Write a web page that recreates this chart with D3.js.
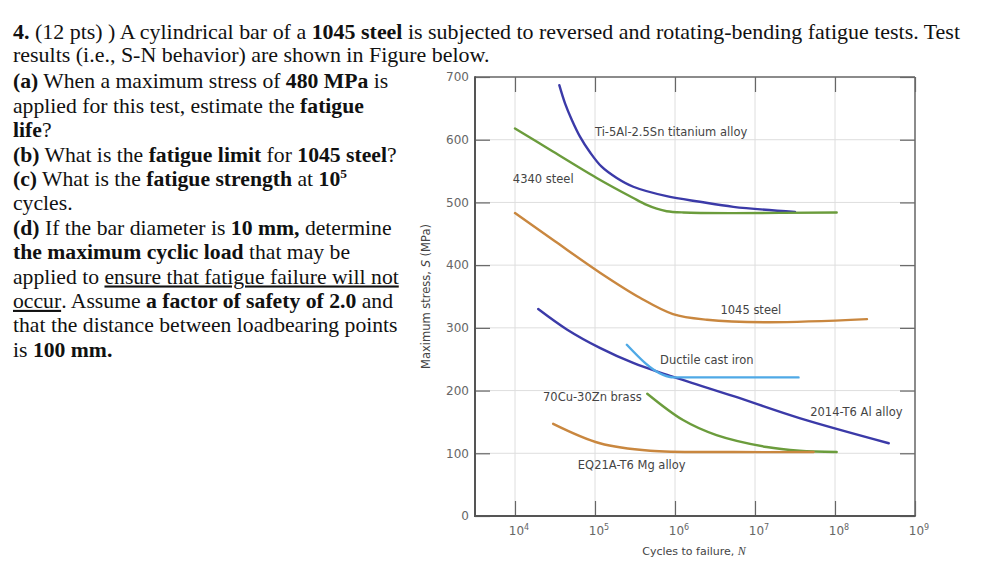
<!DOCTYPE html>
<html><head><meta charset="utf-8">
<script src="https://cdn.jsdelivr.net/npm/d3@7"></script>
<style>body{margin:0;background:#fff;} svg{display:block}</style>
</head><body>
<svg id="c" width="996" height="578"></svg>
<script>
// ---------- data ----------
const tiN   = [3.58e4, 4.22e4, 5.12e4, 6.49e4, 8.66e4, 1.21e5, 1.87e5, 3.01e5, 7.87e5, 2.05e6, 5.36e6, 3.16e7];
const tiS   = [687, 658, 632, 605, 580, 557, 539, 525, 510, 501, 493, 485];
const s4340N = [1e4, 2.74e4, 1.05e5, 3.01e5, 4.43e5, 5.9e5, 7.87e5, 1.27e6, 5.36e6, 1.05e8];
const s4340S = [618, 584, 539, 507, 496, 490, 486, 484, 483, 484];
const s1045N = [1e4, 3.16e4, 1.155e5, 3.65e5, 9.44e5, 2.51e6, 1.41e7, 2.51e8];
const s1045S = [483, 438, 388, 348, 322, 313, 309, 314];
const alN   = [1.95e4, 4.5e4, 1.15e5, 3.0e5, 8e5, 5.4e6, 3.6e7, 4.7e8];
const alS   = [330, 297, 268, 244, 225, 191, 156, 116];
const ironN = [2.5e5, 7.1e5, 9.5e5, 3.5e7];
const ironS = [273, 225, 221, 221];
const brassN = [4.5e5, 1.26e6, 3.3e6, 1.4e7, 3.6e7, 1.05e8];
const brassS = [195, 153, 129, 110, 104, 102];
const mgN   = [3e4, 1.15e5, 4.9e5, 5.4e6, 5.4e7];
const mgS   = [147, 116, 104, 102, 102];

const seriesNames = ["Ti-5Al-2.5Sn titanium alloy","4340 steel","1045 steel","2014-T6 Al alloy","Ductile cast iron","70Cu-30Zn brass","EQ21A-T6 Mg alloy"];
const seriesN = [tiN, s4340N, s1045N, alN, ironN, brassN, mgN];
const seriesS = [tiS, s4340S, s1045S, alS, ironS, brassS, mgS];
const seriesColor = ["#3b3aa8","#6b9c3c","#c9873f","#3b3aa8","#4fa9e6","#6b9c3c","#c9873f"];
const labelN = [1e5, 9.4e3, 3.7e6, 4.9e7, 6.5e5, 2.24e4, 6.1e4];
const labelS = [606, 531, 322, 160, 242, 184, 75];

const xTicks = [1e4,1e5,1e6,1e7,1e8,1e9];
const xTickExp = ["4","5","6","7","8","9"];
const yTicks = [0,100,200,300,400,500,600,700];

// ---------- layout ----------
const L = 475, R = 915, T = 77, B = 516;
const svg = d3.select("#c");
const x = d3.scaleLog().domain([Math.pow(10,3.5), 1e9]).range([L, R]);
const y = d3.scaleLinear().domain([0, 700]).range([B, T]);

// gridlines
const g = svg.append("g");
g.selectAll(".vg").data(xTicks).join("line")
  .attr("x1", d=>x(d)).attr("x2", d=>x(d)).attr("y1", T).attr("y2", B)
  .attr("stroke", "#dedede").attr("stroke-width", 1);
g.selectAll(".hg").data(yTicks).join("line")
  .attr("x1", L).attr("x2", R).attr("y1", d=>y(d)).attr("y2", d=>y(d))
  .attr("stroke", "#dedede").attr("stroke-width", 1);

// axes with inward ticks
const tickCol = "#666";
const yAxis = svg.append("g").attr("transform", `translate(${L},0)`)
  .call(d3.axisLeft(y).tickValues(yTicks).tickSizeInner(-15).tickSizeOuter(0).tickPadding(6));
const yAxisR = svg.append("g").attr("transform", `translate(${R},0)`)
  .call(d3.axisRight(y).tickValues(yTicks).tickSizeInner(-15).tickSizeOuter(0).tickFormat(""));
const xAxis = svg.append("g").attr("transform", `translate(0,${B})`)
  .call(d3.axisBottom(x).tickValues(xTicks).tickSizeInner(-15).tickSizeOuter(0).tickPadding(8).tickFormat(""));
const xAxisT = svg.append("g").attr("transform", `translate(0,${T})`)
  .call(d3.axisTop(x).tickValues(xTicks).tickSizeInner(-15).tickSizeOuter(0).tickFormat(""));
[yAxis, yAxisR, xAxis, xAxisT].forEach(a => {
  a.select(".domain").remove();
  a.selectAll(".tick line").attr("stroke", tickCol).attr("stroke-width", 1.2);
});
yAxis.selectAll(".tick text").attr("font-family", "DejaVu Sans").attr("font-size", 12).attr("fill", "#666");

// x tick labels with superscripts
const xl = svg.append("g");
xTicks.forEach((t, i) => {
  const tx = xl.append("text").attr("x", x(t) + 4).attr("y", B + 19)
    .attr("text-anchor", "middle").attr("font-family", "DejaVu Sans").attr("font-size", 12).attr("fill", "#666");
  tx.append("tspan").text("10");
  tx.append("tspan").attr("dy", -5).attr("font-size", 8).text(xTickExp[i]);
});

// frame
svg.append("line").attr("x1", L).attr("x2", R).attr("y1", T).attr("y2", T).attr("stroke", "#6a6a6a").attr("stroke-width", 1.5);
svg.append("line").attr("x1", R).attr("x2", R).attr("y1", T).attr("y2", B).attr("stroke", "#6a6a6a").attr("stroke-width", 1.5);
svg.append("line").attr("x1", L).attr("x2", L).attr("y1", T-0.75).attr("y2", B+1).attr("stroke", "#555").attr("stroke-width", 2);
svg.append("line").attr("x1", L-1).attr("x2", R+0.75).attr("y1", B).attr("y2", B).attr("stroke", "#555").attr("stroke-width", 2);

// curves
const smooth = d3.line().x(d=>x(d[0])).y(d=>y(d[1])).curve(d3.curveCatmullRom.alpha(0.5));
const sharp = d3.line().x(d=>x(d[0])).y(d=>y(d[1])).curve(d3.curveMonotoneX);
seriesN.forEach((ns, i) => {
  const pts = ns.map((n, j) => [n, seriesS[i][j]]);
  const gen = (ns === ironN) ? sharp : smooth;
  svg.append("path").attr("d", gen(pts)).attr("fill", "none")
    .attr("stroke", seriesColor[i]).attr("stroke-width", 2.4).attr("stroke-linecap", "round");
});

// curve labels
seriesNames.forEach((nm, i) => {
  svg.append("text").attr("x", x(labelN[i])).attr("y", y(labelS[i]))
    .attr("font-family", "DejaVu Sans").attr("font-size", 11.5).attr("fill", "#444").text(nm);
});

// axis titles
const xt = svg.append("text").attr("x", (L + R) / 2 - 1).attr("y", 555).attr("text-anchor", "middle")
  .attr("font-family", "DejaVu Sans").attr("font-size", 11).attr("fill", "#444");
xt.append("tspan").text("Cycles to failure, ");
xt.append("tspan").attr("font-family", "Liberation Serif").attr("font-style", "italic").attr("font-size", 12).text("N");
const yt = svg.append("text").attr("transform", `translate(430,${(T + B) / 2}) rotate(-90)`).attr("text-anchor", "middle")
  .attr("font-family", "DejaVu Sans").attr("font-size", 11.5).attr("fill", "#444");
yt.append("tspan").text("Maximum stress, ");
yt.append("tspan").attr("font-style", "italic").text("S");
yt.append("tspan").text(" (MPa)");

// ---------- question text ----------
const header = [
  [["4.","b"],[" (12 pts) ) A cylindrical bar of a "],["1045 steel","b"],[" is subjected to reversed and rotating-bending fatigue tests. Test"]],
  [["results (i.e., S-N behavior) are shown in Figure below."]]
];
const body = [
  [["(a)","b"],[" When a maximum stress of "],["480 MPa","b"],[" is"]],
  [["applied for this test, estimate the "],["fatigue","b"]],
  [["life","b"],["?"]],
  [["(b)","b"],[" What is the "],["fatigue limit","b"],[" for "],["1045 steel","b"],["?"]],
  [["(c)","b"],[" What is the "],["fatigue strength","b"],[" at "],["10","b"],["5","bs"]],
  [["cycles."]],
  [["(d)","b"],[" If the bar diameter is "],["10 mm,","b"],[" determine"]],
  [["the maximum cyclic load","b"],[" that may be"]],
  [["applied to "],["ensure that fatigue failure will not","u"]],
  [["occur","u"],[". Assume "],["a factor of safety of 2.0","b"],[" and"]],
  [["that the distance between loadbearing points"]],
  [["is "],["100 mm.","b"]]
];
function writeLine(parts, x0, y0, sx) {
  const t = svg.append("text").attr("transform", `translate(${x0},${y0}) scale(${sx},1)`)
    .attr("font-family", "Liberation Serif, Times New Roman, serif").attr("font-size", 21).attr("fill", "#111");
  parts.forEach(p => {
    const s = t.append("tspan").text(p[0]);
    const st = p[1] || "";
    if (st.includes("b")) s.attr("font-weight", "bold");
    if (st.includes("u")) s.attr("text-decoration", "underline");
    if (st.includes("s")) s.attr("dy", -8).attr("font-size", 13);
  });
  return t;
}
header.forEach((ln, i) => writeLine(ln, 13, 38.5 + i * 23.2, 1.046));
body.forEach((ln, i) => writeLine(ln, 13, 88.3 + i * 24.4, 1.033));
</script>
</body></html>
